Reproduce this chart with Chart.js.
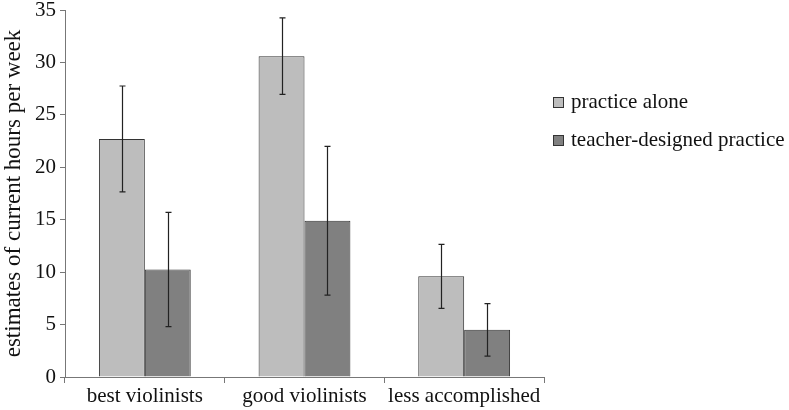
<!DOCTYPE html>
<html>
<head>
<meta charset="utf-8">
<script src="https://cdn.jsdelivr.net/npm/chart.js@4"></script>
<style>
html, body { margin: 0; padding: 0; background: #fff; }
#wrap { width: 789px; height: 410px; }
</style>
</head>
<body>
<div id="wrap"><canvas id="barChart"></canvas></div>
<script>
// data
var groups = ["best violinists", "good violinists", "less accomplished"];
var seriesNames = ["practice alone", "teacher-designed practice"];
var alone = [22.7, 30.6, 9.6];
var aloneErr = [5.05, 3.65, 3.05];
var teacher = [10.25, 14.9, 4.5];
var teacherErr = [5.45, 7.1, 2.5];
var yTicks = [0, 5, 10, 15, 20, 25, 30, 35];

var fillColors = ["#bdbdbd", "#808080"];
var serif = "'Liberation Serif', 'Times New Roman', serif";

// error bars drawn from the scales
var errorBars = {
  id: 'errorBars',
  afterDatasetsDraw: function(chart) {
    var ctx = chart.ctx;
    var yScale = chart.scales.y;
    var errs = [aloneErr, teacherErr];
    ctx.save();
    ctx.strokeStyle = "#222";
    ctx.lineWidth = 1.2;
    chart.data.datasets.forEach(function(ds, i) {
      var meta = chart.getDatasetMeta(i);
      meta.data.forEach(function(bar, j) {
        var v = ds.data[j], e = errs[i][j];
        var top = yScale.getPixelForValue(v + e);
        var bot = yScale.getPixelForValue(v - e);
        var x = Math.round(bar.x) + 0.5;
        ctx.beginPath();
        ctx.moveTo(x, top); ctx.lineTo(x, bot);
        ctx.moveTo(x - 3, top); ctx.lineTo(x + 3, top);
        ctx.moveTo(x - 3, bot); ctx.lineTo(x + 3, bot);
        ctx.stroke();
      });
    });
    ctx.restore();
  }
};

// legend at the right, drawn from dataset labels
var sideLegend = {
  id: 'sideLegend',
  afterDraw: function(chart) {
    var ctx = chart.ctx;
    ctx.save();
    ctx.font = "21px " + serif;
    ctx.textBaseline = "middle";
    chart.data.datasets.forEach(function(ds, i) {
      var y = 102 + i * 38;
      ctx.fillStyle = ds.backgroundColor;
      ctx.fillRect(553, y - 5, 10, 10);
      ctx.strokeStyle = "#333";
      ctx.lineWidth = 1;
      ctx.strokeRect(553.5, y - 4.5, 10, 10);
      ctx.fillStyle = "#111";
      ctx.fillText(ds.label, 571, y);
    });
    ctx.restore();
  }
};

new Chart(document.getElementById("barChart"), {
  type: 'bar',
  data: {
    labels: groups,
    datasets: [{
      label: seriesNames[0],
      data: alone,
      backgroundColor: fillColors[0],
      borderColor: "#333",
      borderWidth: 1
    }, {
      label: seriesNames[1],
      data: teacher,
      backgroundColor: fillColors[1],
      borderColor: "#333",
      borderWidth: 1
    }]
  },
  options: {
    responsive: true,
    maintainAspectRatio: false,
    animation: false,
    layout: { padding: { top: 10, right: 245, left: 0, bottom: 0 } },
    datasets: { bar: { categoryPercentage: 0.575, barPercentage: 1 } },
    plugins: {
      legend: { display: false },
      tooltip: { enabled: false }
    },
    scales: {
      x: {
        grid: { drawOnChartArea: false, offset: true, tickLength: 6, color: "#777" },
        border: { color: "#777" },
        ticks: { color: "#111", font: { family: serif, size: 21 }, padding: 1, maxRotation: 0 },
        afterFit: function(s) { s.height = 33; }
      },
      y: {
        min: 0, max: 35,
        afterBuildTicks: function(s) { s.ticks = yTicks.map(function(v) { return { value: v }; }); },
        grid: { drawOnChartArea: false, tickLength: 5, color: "#777" },
        border: { color: "#777" },
        ticks: { color: "#111", font: { family: serif, size: 21 }, padding: 4 },
        title: {
          display: true,
          text: "estimates of current hours per week",
          color: "#111",
          font: { family: serif, size: 23 },
          padding: { top: 0, bottom: 0 }
        },
        afterFit: function(s) { s.width = 65; s.paddingTop = 0; s.paddingBottom = 0; }
      }
    }
  },
  plugins: [errorBars, sideLegend]
});
</script>
</body>
</html>
